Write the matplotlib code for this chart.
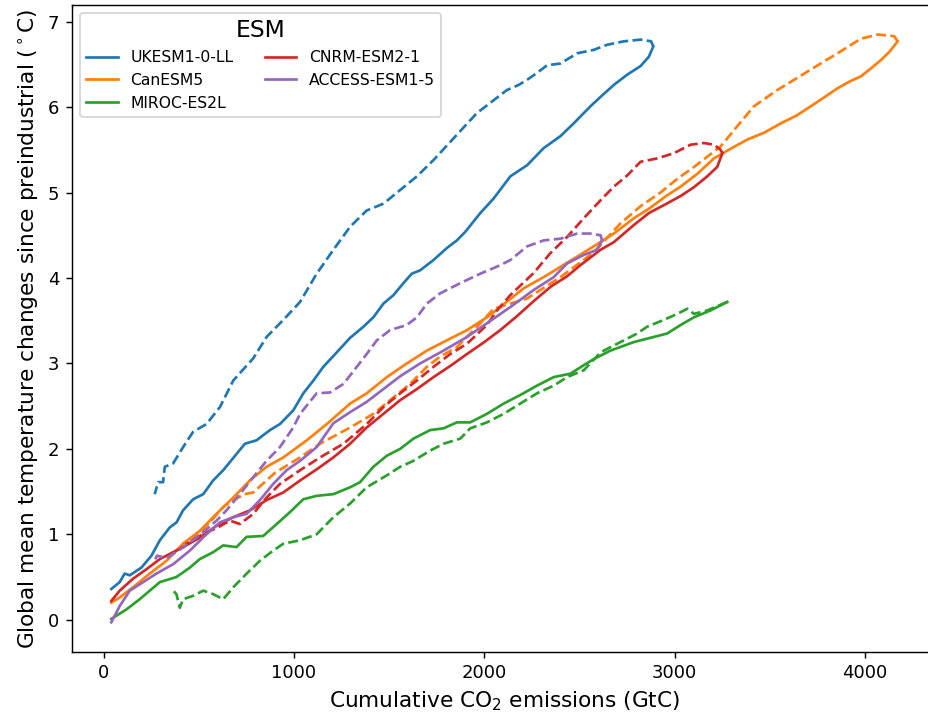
import numpy as np
import matplotlib
matplotlib.use("Agg")
import matplotlib.pyplot as plt

# cumulative emissions (GtC) and warming (degC); "up" = ramp-up branch, "down" = ramp-down branch
ukesm_up_x = [40, 84, 110, 137, 198, 251, 295, 347, 383, 417, 470, 523, 575, 628, 698, 742, 803, 874, 926,
              996, 1049, 1102, 1154, 1225, 1295, 1365, 1417, 1470, 1523, 1575, 1619, 1663, 1733, 1803, 1856,
              1900, 1979, 2049, 2137, 2225, 2312, 2400, 2470, 2558, 2611, 2681, 2751, 2821, 2865, 2888]
ukesm_up_y = [0.36, 0.44, 0.54, 0.52, 0.61, 0.75, 0.93, 1.08, 1.14, 1.28, 1.41, 1.47, 1.63, 1.75, 1.94, 2.06,
              2.10, 2.22, 2.29, 2.45, 2.65, 2.80, 2.96, 3.13, 3.30, 3.43, 3.54, 3.70, 3.80, 3.94, 4.05, 4.09,
              4.21, 4.35, 4.44, 4.54, 4.76, 4.93, 5.19, 5.32, 5.52, 5.66, 5.81, 6.01, 6.12, 6.26, 6.38, 6.48,
              6.59, 6.71]
ukesm_down_x = [2888, 2877, 2821, 2733, 2646, 2575, 2488, 2400, 2330, 2277, 2225, 2181, 2119, 2049, 1961, 1874,
                1733, 1646, 1558, 1470, 1382, 1295, 1207, 1119, 1032, 944, 856, 786, 681, 611, 540, 470, 417,
                365, 321, 312, 286, 268]
ukesm_down_y = [6.71, 6.77, 6.79, 6.77, 6.73, 6.67, 6.63, 6.51, 6.49, 6.40, 6.32, 6.26, 6.20, 6.08, 5.93, 5.72,
                5.38, 5.19, 5.03, 4.87, 4.79, 4.60, 4.33, 4.05, 3.72, 3.51, 3.31, 3.06, 2.80, 2.49, 2.29, 2.20,
                2.02, 1.83, 1.79, 1.61, 1.61, 1.47]

canesm_up_x = [40, 84, 154, 242, 330, 417, 505, 593, 681, 768, 856, 944, 1067, 1172, 1295, 1382, 1488, 1593,
               1698, 1803, 1909, 2014, 2084, 2207, 2312, 2400, 2488, 2575, 2681, 2786, 2865, 2956, 3032, 3120,
               3207, 3300, 3382, 3470, 3558, 3640, 3716, 3790, 3856, 3920, 3979, 4030, 4084, 4130, 4172]
canesm_up_y = [0.20, 0.26, 0.38, 0.54, 0.69, 0.89, 1.04, 1.24, 1.43, 1.63, 1.79, 1.90, 2.10, 2.29, 2.53, 2.65,
               2.84, 3.00, 3.15, 3.27, 3.39, 3.54, 3.66, 3.88, 4.01, 4.13, 4.25, 4.37, 4.52, 4.70, 4.81, 4.96,
               5.07, 5.22, 5.40, 5.52, 5.62, 5.70, 5.81, 5.90, 6.01, 6.12, 6.22, 6.30, 6.36, 6.45, 6.55, 6.65,
               6.77]
canesm_down_x = [4172, 4154, 4067, 3979, 3856, 3716, 3540, 3417, 3312, 3242, 3102, 3014, 2926, 2821, 2716, 2575,
                 2400, 2225, 2049, 1979, 1856, 1768, 1698, 1610, 1505, 1417, 1295, 1137, 1032, 900, 786, 742,
                 681, 628, 566, 505, 417]
canesm_down_y = [6.77, 6.83, 6.85, 6.80, 6.63, 6.44, 6.20, 6.01, 5.73, 5.54, 5.30, 5.16, 5.00, 4.84, 4.64, 4.30,
                 4.01, 3.76, 3.64, 3.47, 3.19, 3.08, 2.96, 2.76, 2.57, 2.41, 2.25, 2.06, 1.90, 1.72, 1.49, 1.47,
                 1.40, 1.32, 1.16, 1.02, 0.89]

miroc_up_x = [40, 119, 189, 242, 295, 382, 453, 505, 575, 628, 698, 751, 838, 909, 979, 1049, 1119, 1207, 1295,
              1347, 1417, 1488, 1558, 1628, 1716, 1786, 1856, 1926, 2014, 2102, 2189, 2277, 2365, 2453, 2523,
              2575, 2663, 2786, 2891, 2961, 3032, 3102, 3189, 3277]
miroc_up_y = [0.01, 0.12, 0.24, 0.34, 0.44, 0.50, 0.61, 0.71, 0.79, 0.87, 0.85, 0.97, 0.98, 1.12, 1.26, 1.41,
              1.45, 1.47, 1.55, 1.61, 1.79, 1.92, 2.00, 2.12, 2.22, 2.24, 2.31, 2.31, 2.41, 2.53, 2.63, 2.74,
              2.84, 2.88, 2.98, 3.05, 3.15, 3.25, 3.31, 3.35, 3.45, 3.54, 3.62, 3.72]
miroc_down_x = [3277, 3172, 3102, 3067, 3014, 2944, 2856, 2803, 2716, 2611, 2523, 2435, 2365, 2277, 2189, 2102,
                2014, 1926, 1874, 1786, 1716, 1628, 1558, 1488, 1382, 1295, 1207, 1119, 1032, 944, 891, 821,
                751, 681, 628, 575, 523, 470, 417, 400, 382, 365]
miroc_down_y = [3.72, 3.62, 3.58, 3.64, 3.58, 3.51, 3.43, 3.35, 3.25, 3.13, 2.92, 2.84, 2.74, 2.65, 2.53, 2.41,
                2.31, 2.24, 2.12, 2.06, 1.98, 1.86, 1.79, 1.69, 1.55, 1.36, 1.20, 1.00, 0.93, 0.89, 0.81, 0.69,
                0.54, 0.38, 0.24, 0.30, 0.34, 0.28, 0.24, 0.14, 0.30, 0.34]

cnrm_up_x = [40, 84, 154, 224, 295, 347, 417, 505, 593, 681, 768, 856, 944, 1032, 1119, 1207, 1295, 1382, 1470,
             1558, 1646, 1733, 1821, 1909, 2000, 2084, 2170, 2260, 2350, 2435, 2505, 2611, 2681, 2786, 2865,
             2950, 3032, 3100, 3172, 3224, 3251]
cnrm_up_y = [0.22, 0.34, 0.48, 0.59, 0.71, 0.77, 0.85, 0.96, 1.10, 1.20, 1.28, 1.40, 1.49, 1.63, 1.76, 1.90,
             2.06, 2.25, 2.41, 2.57, 2.70, 2.84, 2.97, 3.11, 3.25, 3.39, 3.55, 3.73, 3.90, 4.02, 4.15, 4.33,
             4.42, 4.62, 4.76, 4.86, 4.96, 5.06, 5.19, 5.30, 5.46]
cnrm_down_x = [3251, 3242, 3207, 3154, 3084, 2996, 2909, 2821, 2751, 2681, 2611, 2523, 2435, 2347, 2260, 2137,
               2067, 2014, 1909, 1821, 1733, 1646, 1558, 1470, 1382, 1260, 1137, 1032, 926, 856, 786, 716, 663,
               600, 520, 430]
cnrm_down_y = [5.46, 5.50, 5.56, 5.58, 5.56, 5.46, 5.40, 5.36, 5.20, 5.07, 4.91, 4.70, 4.48, 4.29, 4.06, 3.80,
               3.62, 3.45, 3.23, 3.11, 2.96, 2.80, 2.65, 2.49, 2.29, 2.06, 1.90, 1.75, 1.59, 1.43, 1.24, 1.12,
               1.16, 1.08, 1.00, 0.88]

access_up_x = [40, 84, 137, 207, 277, 365, 453, 540, 611, 681, 751, 821, 891, 961, 1032, 1119, 1207, 1295, 1382,
               1470, 1558, 1663, 1786, 1909, 2014, 2137, 2260, 2365, 2435, 2523, 2593, 2619]
access_up_y = [-0.03, 0.16, 0.34, 0.44, 0.54, 0.65, 0.81, 1.00, 1.14, 1.20, 1.24, 1.40, 1.59, 1.75, 1.86, 2.02,
               2.30, 2.43, 2.55, 2.70, 2.85, 3.00, 3.15, 3.31, 3.47, 3.66, 3.86, 4.01, 4.17, 4.27, 4.33, 4.44]
access_down_x = [2619, 2611, 2558, 2488, 2400, 2312, 2225, 2137, 2084, 1979, 1874, 1768, 1698, 1646, 1593, 1505,
                 1435, 1382, 1330, 1260, 1189, 1119, 1032, 996, 926, 856, 786, 716, 645, 593, 520, 420, 330,
                 280, 260]
access_down_y = [4.44, 4.50, 4.52, 4.52, 4.46, 4.44, 4.37, 4.21, 4.15, 4.05, 3.94, 3.82, 3.70, 3.54, 3.45, 3.39,
                 3.27, 3.11, 2.96, 2.76, 2.66, 2.65, 2.41, 2.25, 2.02, 1.86, 1.67, 1.47, 1.28, 1.16, 1.02, 0.85,
                 0.72, 0.75, 0.66]

models = ["UKESM1-0-LL", "CanESM5", "MIROC-ES2L", "CNRM-ESM2-1", "ACCESS-ESM1-5"]
branches = {
    "UKESM1-0-LL": (ukesm_up_x, ukesm_up_y, ukesm_down_x, ukesm_down_y),
    "CanESM5": (canesm_up_x, canesm_up_y, canesm_down_x, canesm_down_y),
    "MIROC-ES2L": (miroc_up_x, miroc_up_y, miroc_down_x, miroc_down_y),
    "CNRM-ESM2-1": (cnrm_up_x, cnrm_up_y, cnrm_down_x, cnrm_down_y),
    "ACCESS-ESM1-5": (access_up_x, access_up_y, access_down_x, access_down_y),
}
colors = ["tab:blue", "tab:orange", "tab:green", "tab:red", "tab:purple"]

dpi = 130
fig = plt.figure(figsize=(928 / dpi, 720 / dpi), dpi=dpi)
ax = fig.add_axes([0.0776, 0.0949, 0.932, 0.898])

for name, c in zip(models, colors):
    ux, uy, dx, dy = branches[name]
    ax.plot(ux, uy, color=c, label=name)
    ax.plot(dx, dy, color=c, linestyle="--")

ax.set_xlabel("Cumulative CO$_2$ emissions (GtC)", fontsize=12)
ax.set_ylabel("Global mean temperature changes since preindustrial ($^\\circ$C)", fontsize=12)
ax.legend(title="ESM", ncol=2, loc="upper left", fontsize=8.7, title_fontsize=13)

fig.savefig("out.png", dpi=dpi)
